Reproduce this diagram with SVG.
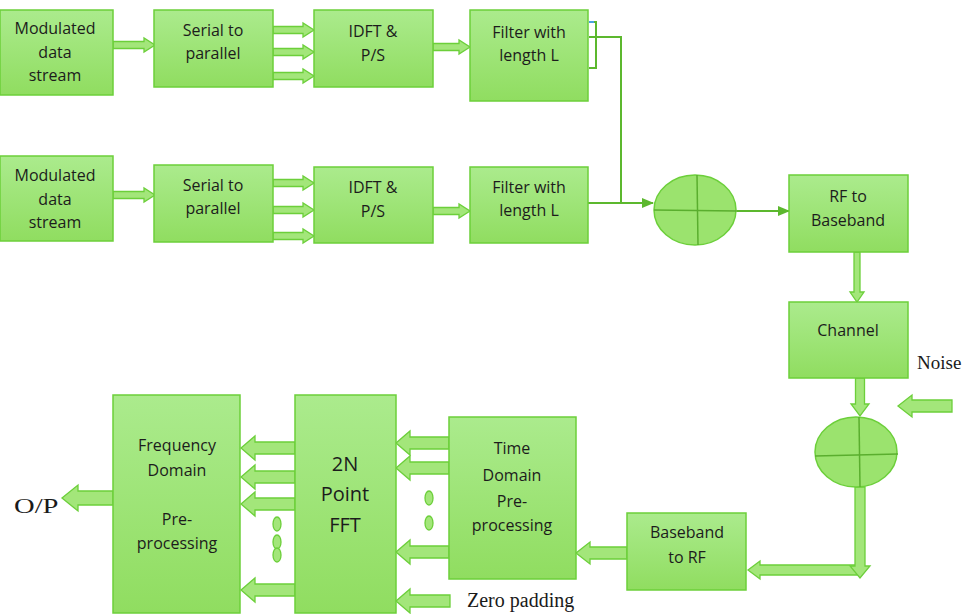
<svg xmlns="http://www.w3.org/2000/svg" width="967" height="614" viewBox="0 0 967 614">
<defs>
<linearGradient id="g" x1="0" y1="0" x2="0" y2="1">
<stop offset="0" stop-color="#abeb8d"/>
<stop offset="1" stop-color="#90dd60"/>
</linearGradient>
<marker id="ah" markerWidth="12" markerHeight="10" refX="11" refY="5" orient="auto" markerUnits="userSpaceOnUse">
<path d="M0,0 L12,5 L0,10 Z" fill="#5cb82e"/>
</marker>
<style>
.box{fill:url(#g);stroke:#6ccf3a;stroke-width:1.5}
.t{font-family:"Open Sans","Liberation Sans",sans-serif;font-size:16px;fill:#1c1c1c;text-anchor:middle}
.big{font-size:20px}
.s{font-family:"Liberation Serif","Times New Roman",serif;fill:#1a1a1a}
.ar{fill:#a3e67a;stroke:#6ccf3a;stroke-width:1.3}
.ln{fill:none;stroke:#5cb82e;stroke-width:2}
.sum{fill:#9be36e;stroke:#6ccf3a;stroke-width:1.5}
.cr{stroke:#5aae2e;stroke-width:1.5}
.dot{fill:#a3e67a;stroke:#6ccf3a;stroke-width:1.3}
</style>
</defs>
<rect width="967" height="614" fill="#ffffff"/>

<g id="connectors">
<path class="ar" d="M113,41.5 L144,41.5 L144,38 L155,45 L144,52 L144,48.5 L113,48.5 Z"/>
<path class="ar" d="M273,26.5 L303,26.5 L303,23 L314,30 L303,37 L303,33.5 L273,33.5 Z"/>
<path class="ar" d="M273,48.5 L303,48.5 L303,45 L314,52 L303,59 L303,55.5 L273,55.5 Z"/>
<path class="ar" d="M273,72.5 L303,72.5 L303,69 L314,76 L303,83 L303,79.5 L273,79.5 Z"/>
<path class="ar" d="M433,43.5 L459,43.5 L459,40 L470,47 L459,54 L459,50.5 L433,50.5 Z"/>
<path class="ar" d="M113,191.5 L144,191.5 L144,188 L155,195 L144,202 L144,198.5 L113,198.5 Z"/>
<path class="ar" d="M273,179.5 L303,179.5 L303,176 L314,183 L303,190 L303,186.5 L273,186.5 Z"/>
<path class="ar" d="M273,206.5 L303,206.5 L303,203 L314,210 L303,217 L303,213.5 L273,213.5 Z"/>
<path class="ar" d="M273,232.5 L303,232.5 L303,229 L314,236 L303,243 L303,239.5 L273,239.5 Z"/>
<path class="ar" d="M433,207.5 L459,207.5 L459,204 L470,211 L459,218 L459,214.5 L433,214.5 Z"/>
<path class="ln" d="M589,22 L596,22 L596,68 L589,68"/>
<path d="M589,22 L594,22" stroke="#4aa3df" stroke-width="2"/>
<path class="ln" d="M589,37 L621,37 L621,203"/>
<path class="ln" d="M588,203 L653,203" marker-end="url(#ah)"/>
<path class="ln" d="M737,211 L789,211" marker-end="url(#ah)"/>
<path class="ar" d="M854,252 L854,292 L850,292 L857,302 L864,292 L860,292 L860,252 Z"/>
<path class="ar" d="M855.5,378 L855.5,404 L851,404 L860,416 L869,404 L864.5,404 L864.5,378 Z"/>
<path class="ar" d="M952,400 L912,400 L912,395 L898,406 L912,417 L912,412 L952,412 Z"/>
<path class="ar" d="M857,565 L760,565 L760,561 L748,570 L760,579 L760,575 L857,575 Z"/>
<path class="ar" d="M855,487 L855,566 L850,566 L860,578 L870,566 L865,566 L865,487 Z"/>
<path class="ar" d="M627,547 L590,547 L590,542 L576,553 L590,564 L590,559 L627,559 Z"/>
<path class="ar" d="M449,437 L410,437 L410,431 L396,443 L410,455 L410,449 L449,449 Z"/>
<path class="ar" d="M449,462 L410,462 L410,456 L396,468 L410,480 L410,474 L449,474 Z"/>
<path class="ar" d="M449,546 L410,546 L410,540 L396,552 L410,564 L410,558 L449,558 Z"/>
<path class="ar" d="M450,595 L410,595 L410,589 L396,601 L410,613 L410,607 L450,607 Z"/>
<path class="ar" d="M295,442 L255,442 L255,436 L241,448 L255,460 L255,454 L295,454 Z"/>
<path class="ar" d="M295,471 L255,471 L255,465 L241,477 L255,489 L255,483 L295,483 Z"/>
<path class="ar" d="M295,498 L255,498 L255,492 L241,504 L255,516 L255,510 L295,510 Z"/>
<path class="ar" d="M295,584 L255,584 L255,578 L241,590 L255,602 L255,596 L295,596 Z"/>
<path class="ar" d="M113,491 L78,491 L78,485 L62,498 L78,511 L78,505 L113,505 Z"/>
<ellipse class="dot" cx="429" cy="498" rx="4" ry="7"/>
<ellipse class="dot" cx="429" cy="523" rx="4" ry="7"/>
<ellipse class="dot" cx="277" cy="524" rx="4" ry="7"/>
<ellipse class="dot" cx="277" cy="542" rx="4" ry="7"/>
<ellipse class="dot" cx="277" cy="555" rx="4" ry="7"/>
</g>

<g id="mod1"><rect class="box" x="0" y="10" width="113" height="85"/>
<text class="t" x="55" y="34">Modulated</text><text class="t" x="55" y="58">data</text><text class="t" x="55" y="81">stream</text></g>
<g id="sp1"><rect class="box" x="154" y="10" width="119" height="77"/>
<text class="t" x="213" y="36">Serial to</text><text class="t" x="213" y="59">parallel</text></g>
<g id="idft1"><rect class="box" x="314" y="10" width="119" height="77"/>
<text class="t" x="373" y="37">IDFT &amp;</text><text class="t" x="373" y="61">P/S</text></g>
<g id="filt1"><rect class="box" x="470" y="10" width="118" height="91"/>
<text class="t" x="529" y="38">Filter with</text><text class="t" x="529" y="61">length L</text></g>

<g id="mod2"><rect class="box" x="0" y="156" width="113" height="85"/>
<text class="t" x="55" y="181">Modulated</text><text class="t" x="55" y="205">data</text><text class="t" x="55" y="228">stream</text></g>
<g id="sp2"><rect class="box" x="154" y="165" width="119" height="77"/>
<text class="t" x="213" y="191">Serial to</text><text class="t" x="213" y="214">parallel</text></g>
<g id="idft2"><rect class="box" x="314" y="167" width="119" height="76"/>
<text class="t" x="373" y="193">IDFT &amp;</text><text class="t" x="373" y="217">P/S</text></g>
<g id="filt2"><rect class="box" x="470" y="167" width="118" height="76"/>
<text class="t" x="529" y="193">Filter with</text><text class="t" x="529" y="216">length L</text></g>

<g id="sum1"><ellipse class="sum" cx="695" cy="210" rx="41" ry="35"/>
<line class="cr" x1="697" y1="175" x2="698" y2="245"/><line class="cr" x1="654" y1="210" x2="737" y2="211"/></g>

<g id="rf2bb"><rect class="box" x="789" y="175" width="119" height="77"/>
<text class="t" x="848" y="202">RF to</text><text class="t" x="848" y="226">Baseband</text></g>
<g id="channel"><rect class="box" x="789" y="302" width="119" height="76"/>
<text class="t" x="848" y="336">Channel</text></g>
<text class="s" x="917" y="369" font-size="19">Noise</text>

<g id="sum2"><ellipse class="sum" cx="856" cy="452" rx="41" ry="35"/>
<line class="cr" x1="859" y1="417" x2="860" y2="487"/><line class="cr" x1="815" y1="456" x2="898" y2="454"/></g>

<g id="bb2rf"><rect class="box" x="627" y="513" width="119" height="77"/>
<text class="t" x="687" y="538">Baseband</text><text class="t" x="687" y="563">to RF</text></g>
<g id="tdp"><rect class="box" x="449" y="417" width="127" height="162"/>
<text class="t" x="512" y="454">Time</text><text class="t" x="512" y="481">Domain</text><text class="t" x="512" y="507">Pre-</text><text class="t" x="512" y="531">processing</text></g>
<g id="fft"><rect class="box" x="295" y="395" width="101" height="218"/>
<text class="t big" x="345" y="471">2N</text><text class="t big" x="345" y="501">Point</text><text class="t big" x="345" y="532">FFT</text></g>
<g id="fdp"><rect class="box" x="113" y="395" width="127" height="218"/>
<text class="t" x="177" y="451">Frequency</text><text class="t" x="177" y="476">Domain</text><text class="t" x="177" y="525">Pre-</text><text class="t" x="177" y="549">processing</text></g>
<text class="s" x="467" y="607" font-size="20">Zero padding</text>
<text class="s" font-size="22" transform="translate(14,513) scale(1.3,1)">O/P</text>
</svg>
